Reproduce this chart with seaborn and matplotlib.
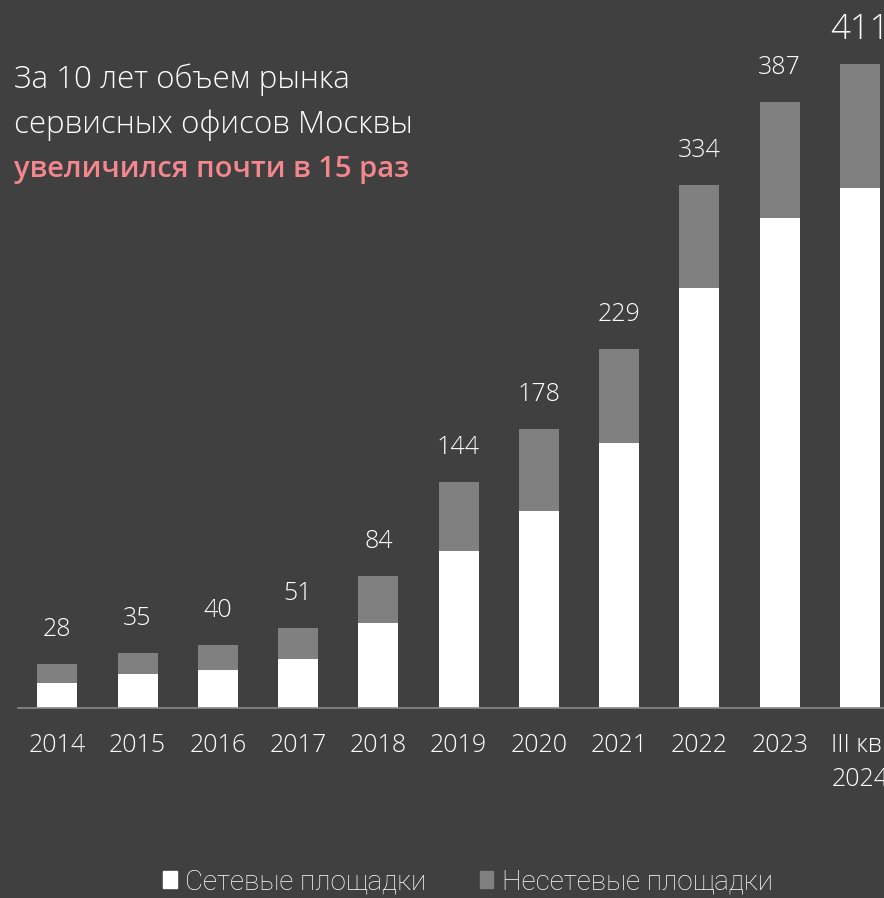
import seaborn as sns
import matplotlib.pyplot as plt
import matplotlib.patches as mpatches

# Данные (тыс. кв. м)
periods = ["2014", "2015", "2016", "2017", "2018", "2019", "2020", "2021",
           "2022", "2023", "III кв.\n2024"]
totals = [28, 35, 40, 51, 84, 144, 178, 229, 334, 387, 411]
network = [16, 22, 24, 31, 54, 100, 126, 169, 268, 313, 332]

bg = "#404040"
gray = "#808080"
pink = "#F4878D"

sns.set_theme(style="white")
plt.rcParams["font.family"] = ["Open Sans", "DejaVu Sans"]

fig = plt.figure(figsize=(8.84, 8.98), dpi=100, facecolor=bg)
ax = fig.add_axes([18 / 884, 190 / 898, 866 / 884, 708 / 898])
ax.set_facecolor(bg)

# Сначала полная высота серым, сверху белые сетевые площадки
sns.barplot(x=periods, y=totals, color=gray, saturation=1, width=0.5,
            linewidth=0, ax=ax)
sns.barplot(x=periods, y=network, color="white", saturation=1, width=0.5,
            linewidth=0, ax=ax)

ax.set_xlim(-0.49, 10.3)
ax.set_ylim(0, 452)

# Подписи итогов
for i, t in enumerate(totals):
    size = 25 if i == len(totals) - 1 else 18
    ax.annotate(str(t), (i, t), xytext=(0, 25), textcoords="offset points",
                ha="center", va="center", color="white", fontsize=size,
                fontweight="light", annotation_clip=False)

sns.despine(ax=ax, left=True, top=True, right=True)
ax.spines["bottom"].set_color("#8a8a8a")
ax.spines["bottom"].set_linewidth(1.2)
ax.set_yticks([])
ax.set_xlabel("")
ax.set_ylabel("")
ax.tick_params(axis="x", length=0, pad=18, colors="white", labelsize=18)
for lab in ax.get_xticklabels():
    lab.set_fontweight("light")
    lab.set_verticalalignment("top")
    lab.set_linespacing(1.45)

# Заголовок
fig.text(14 / 884, 1 - 80 / 898, "За 10 лет объем рынка", color="white",
         fontsize=22.5, fontweight="light", va="center")
fig.text(14 / 884, 1 - 125 / 898, "сервисных офисов Москвы", color="white",
         fontsize=22.5, fontweight="light", va="center")
fig.text(14 / 884, 1 - 170 / 898, "увеличился почти в 15 раз", color=pink,
         fontsize=21, fontweight="semibold", va="center")

# Легенда
handles = [mpatches.Patch(color="white", label="Сетевые площадки"),
           mpatches.Patch(color=gray, label="Несетевые площадки")]
leg = fig.legend(handles=handles, loc="center", bbox_to_anchor=(468 / 884, 16 / 898),
                 ncol=2, frameon=False, handlelength=0.5,
                 handleheight=0.55, handletextpad=0.3, columnspacing=1.9,
                 prop={"family": "Roboto", "weight": "light", "size": 20})
for txt in leg.get_texts():
    txt.set_color("white")

fig.savefig("out.png", dpi=100, facecolor=bg)
